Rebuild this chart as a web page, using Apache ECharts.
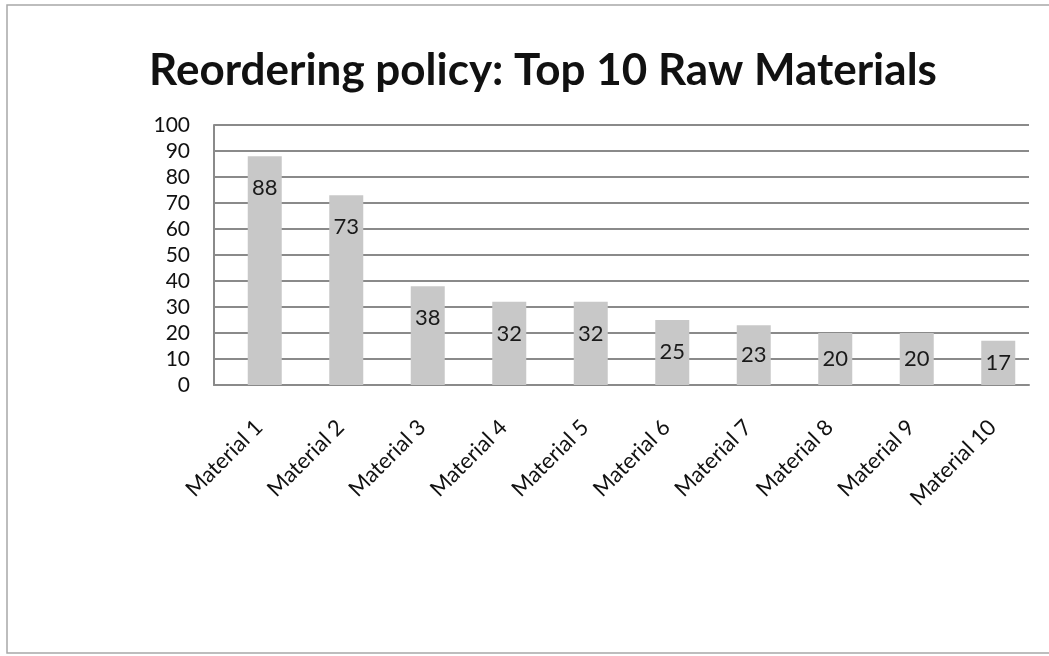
<!DOCTYPE html>
<html>
<head>
<meta charset="utf-8">
<script src="https://cdn.jsdelivr.net/npm/echarts@6/dist/echarts.min.js"></script>
<style>
  html, body { margin: 0; padding: 0; background: #ffffff; }
  #chart { width: 1049px; height: 656px; }
</style>
</head>
<body>
<div id="chart"></div>
<script>
// Reordering quantities for the ten most used raw materials
const titleText = 'Reordering policy: Top 10 Raw Materials';
const materials = ['Material 1', 'Material 2', 'Material 3', 'Material 4', 'Material 5',
                   'Material 6', 'Material 7', 'Material 8', 'Material 9', 'Material 10'];
const quantities = [88, 73, 38, 32, 32, 25, 23, 20, 20, 17];
const yMin = 0;
const yMax = 100;
const yStep = 10;

const FONT = 'Lato, "Open Sans", sans-serif';
const chart = echarts.init(document.getElementById('chart'), null, { renderer: 'canvas' });

// Short bars get their value centred; taller bars carry it just below the top
const barData = quantities.map(v => ({
  value: v,
  label: v >= 25 ? { position: 'insideTop', distance: 21 } : { position: 'inside' }
}));

chart.setOption({
  backgroundColor: '#ffffff',
  animation: false,
  title: {
    text: titleText,
    left: 538,
    top: 44,
    textAlign: 'center',
    textStyle: { fontFamily: FONT, fontWeight: 'bold', fontSize: 44, color: '#111111' }
  },
  graphic: [{
    type: 'rect',
    shape: { x: 7, y: 5, width: 1050, height: 648 },
    style: { fill: 'none', stroke: '#a8a8a8', lineWidth: 1.5 },
    silent: true,
    z: -1
  }],
  grid: [
    // frame, gridlines and value axis
    { left: 214, right: 20, top: 125, bottom: 271 },
    // bars and category labels
    { left: 224, right: 10, top: 125, bottom: 271 }
  ],
  xAxis: [
    {
      gridIndex: 0, type: 'category', data: materials,
      axisLine: { show: true, lineStyle: { color: '#8a8a8a', width: 2 } },
      axisTick: { show: false }, axisLabel: { show: false }, splitLine: { show: false }
    },
    {
      gridIndex: 1, type: 'category', data: materials,
      axisLine: { show: false }, axisTick: { show: false },
      axisLabel: {
        rotate: 45, margin: 33, interval: 0, padding: [0, 8, 0, 0],
        fontFamily: FONT, fontSize: 22, color: '#111111'
      }
    }
  ],
  yAxis: [
    {
      gridIndex: 0, type: 'value', min: yMin, max: yMax, interval: yStep,
      axisLine: { show: true, lineStyle: { color: '#8a8a8a', width: 2 } },
      axisTick: { show: false },
      splitLine: { show: true, lineStyle: { color: '#8a8a8a', width: 2 } },
      axisLabel: { margin: 24, fontFamily: FONT, fontSize: 21, color: '#111111' }
    },
    {
      gridIndex: 1, type: 'value', min: yMin, max: yMax, interval: yStep,
      show: false
    }
  ],
  series: [{
    type: 'bar',
    xAxisIndex: 1,
    yAxisIndex: 1,
    data: barData,
    barWidth: 34,
    itemStyle: { color: '#c8c8c8' },
    label: {
      show: true,
      fontFamily: FONT, fontSize: 22, color: '#1a1a1a'
    },
    z: 3
  }]
});
</script>
</body>
</html>
